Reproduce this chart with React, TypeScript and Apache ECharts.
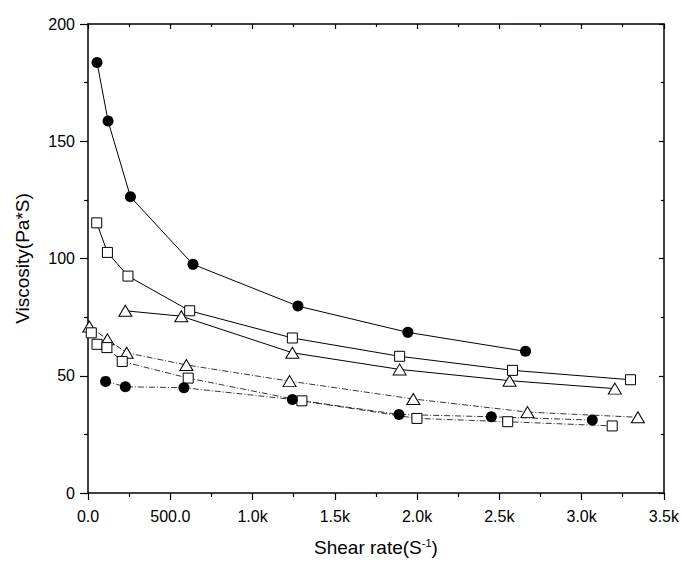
import React, { useEffect, useRef } from "react";
import * as echarts from "echarts";

// Series A: filled circles, solid line
const xA = [55, 122, 258, 638, 1276, 1944, 2659];
const yA = [183.6, 158.6, 126.3, 97.5, 79.7, 68.5, 60.4];
// Series B: open squares, solid line
const xB = [53, 118, 243, 618, 1242, 1894, 2580, 3297];
const yB = [115.2, 102.6, 92.5, 77.7, 66.1, 58.3, 52.3, 48.3];
// Series C: open triangles, solid line
const xC = [227, 567, 1242, 1894, 2562, 3202];
const yC = [77.7, 75.4, 59.8, 52.7, 47.9, 44.5];
// Series D: open triangles, dash-dot line
const xD = [8, 118, 235, 598, 1225, 1977, 2671, 3342];
const yD = [71, 65.5, 59.8, 54.6, 47.7, 40.1, 34.5, 32.3];
// Series E: open squares, dash-dot line
const xE = [20, 55, 115, 208, 609, 1300, 1999, 2551, 3186];
const yE = [68.3, 63.4, 62.0, 56.1, 49.0, 39.3, 31.8, 30.4, 28.6];
// Series F: filled circles, dash-dot line
const xF = [107, 227, 583, 1242, 1890, 2451, 3065];
const yF = [47.6, 45.3, 44.9, 39.9, 33.5, 32.5, 31.1];

const xMin = 0, xMax = 3500, xStep = 500;
const yMin = 0, yMax = 200, yStep = 50;

const FONT = "Liberation Sans, Arial, sans-serif";

function zip(xs: number[], ys: number[]) {
  return xs.map((x, i) => [x, ys[i]]);
}

function fmtX(v: number) {
  if (v < 1000) return v.toFixed(1);
  return (v / 1000).toFixed(1) + "k";
}

export default function App() {
  const ref = useRef<HTMLDivElement>(null);
  useEffect(() => {
    if (!ref.current) return;
    const chart = echarts.init(ref.current, null, { renderer: "svg" });
    const axisLine = { show: true, onZero: false, lineStyle: { color: "#000", width: 1.5 } };
    const solid = { color: "#000", width: 1, type: "solid" as const };
    const dashdot = { color: "#000", width: 0.8, type: [6, 2, 1, 2] };
    const mk = (name: string, xs: number[], ys: number[], symbol: string, filled: boolean, ls: any, size: any) => ({
      name,
      type: "line",
      data: zip(xs, ys),
      symbol,
      symbolSize: size,
      showAllSymbol: true,
      lineStyle: ls,
      itemStyle: filled
        ? { color: "#000", borderColor: "#000", borderWidth: 0 }
        : { color: "#fff", borderColor: "#000", borderWidth: 1 },
      emphasis: { disabled: true },
      z: 2,
    });
    chart.setOption({
      animation: false,
      backgroundColor: "#fff",
      textStyle: { fontFamily: FONT },
      grid: { left: 88, right: 18, top: 24, bottom: 69, containLabel: false },
      xAxis: [
        {
          type: "value",
          min: xMin,
          max: xMax,
          interval: xStep,
          position: "bottom",
          axisLine,
          axisTick: { show: true, inside: false, length: 7, lineStyle: { color: "#000", width: 1.2 } },
          minorTick: { show: true, splitNumber: 2, length: 4, lineStyle: { color: "#000", width: 1.2 } },
          splitLine: { show: false },
          axisLabel: { color: "#000", fontSize: 16, fontFamily: FONT, margin: 15, formatter: fmtX },
          name: "{a|Shear rate(S}{b|-1}{a|)}",
          nameLocation: "middle",
          nameGap: 44,
          nameTextStyle: {
            rich: {
              a: { fontSize: 19, fontFamily: FONT, color: "#000", lineHeight: 20 },
              b: { fontSize: 11, fontFamily: FONT, color: "#000", verticalAlign: "top", lineHeight: 20, padding: [0, 0, 8, 0] },
            },
          },
        },
        {
          type: "value",
          min: xMin,
          max: xMax,
          interval: xStep,
          position: "top",
          axisLine,
          axisTick: { show: true, inside: true, length: 5, lineStyle: { color: "#000", width: 1.2 } },
          minorTick: { show: true, splitNumber: 2, length: 3, lineStyle: { color: "#000", width: 1.2 } },
          splitLine: { show: false },
          axisLabel: { show: false },
        },
      ],
      yAxis: [
        {
          type: "value",
          min: yMin,
          max: yMax,
          interval: yStep,
          position: "left",
          axisLine,
          axisTick: { show: true, inside: false, length: 8, lineStyle: { color: "#000", width: 1.2 } },
          minorTick: { show: true, splitNumber: 2, length: 4, lineStyle: { color: "#000", width: 1.2 } },
          splitLine: { show: false },
          axisLabel: { color: "#000", fontSize: 16, fontFamily: FONT, margin: 13 },
          name: "Viscosity(Pa*S)",
          nameLocation: "middle",
          nameGap: 56,
          nameTextStyle: { color: "#000", fontSize: 19, fontFamily: FONT },
        },
        {
          type: "value",
          min: yMin,
          max: yMax,
          interval: yStep,
          position: "right",
          axisLine,
          axisTick: { show: true, inside: true, length: 5, lineStyle: { color: "#000", width: 1.2 } },
          minorTick: { show: true, splitNumber: 2, length: 3, lineStyle: { color: "#000", width: 1.2 } },
          splitLine: { show: false },
          axisLabel: { show: false },
        },
      ],
      series: [
        mk("D", xD, yD, "triangle", false, dashdot, [13, 11]),
        mk("E", xE, yE, "rect", false, dashdot, 10),
        mk("F", xF, yF, "circle", true, dashdot, 11),
        mk("C", xC, yC, "triangle", false, solid, [13, 11]),
        mk("B", xB, yB, "rect", false, solid, 10),
        mk("A", xA, yA, "circle", true, solid, 11),
      ],
    });
    return () => chart.dispose();
  }, []);
  return (
    <div
      ref={ref}
      style={{ position: "fixed", left: 0, top: 0, width: 682, height: 562 }}
    />
  );
}
